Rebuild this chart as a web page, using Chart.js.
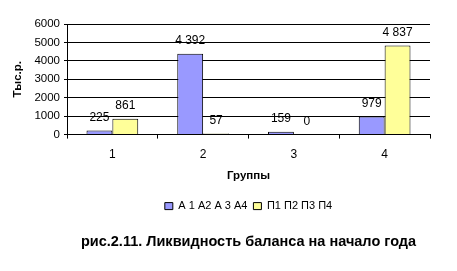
<!DOCTYPE html>
<html>
<head>
<meta charset="utf-8">
<script src="https://cdn.jsdelivr.net/npm/chart.js@4"></script>
<style>
  html, body { margin: 0; padding: 0; background: #fff; }
  #wrap { width: 457px; height: 271px; }
</style>
</head>
<body>
<div id="wrap"><canvas id="liq"></canvas></div>
<script>
var groups = ["1", "2", "3", "4"];
var assets = [225, 4392, 159, 979];
var liabilities = [861, 57, 0, 4837];
var yTicks = [0, 1000, 2000, 3000, 4000, 5000, 6000];

Chart.defaults.font.family = "'Liberation Sans', Arial, sans-serif";
Chart.defaults.font.size = 11;
Chart.defaults.color = '#000';

function fmt(v) {
  return String(v).replace(/\B(?=(\d{3})+(?!\d))/g, ' ');
}

// value labels above bars, like excel
var barLabels = {
  id: 'barLabels',
  afterDatasetsDraw: function(chart) {
    var ctx = chart.ctx;
    ctx.save();
    ctx.font = "12px 'Liberation Sans', Arial, sans-serif";
    ctx.fillStyle = '#000';
    ctx.textAlign = 'center';
    ctx.textBaseline = 'bottom';
    chart.data.datasets.forEach(function(ds, i) {
      var meta = chart.getDatasetMeta(i);
      meta.data.forEach(function(bar, j) {
        ctx.fillText(fmt(ds.data[j]), bar.x, bar.y - 7);
      });
    });
    ctx.restore();
  }
};

new Chart(document.getElementById('liq').getContext('2d'), {
  type: 'bar',
  data: {
    labels: groups,
    datasets: [{
      label: 'А 1 А2 А 3 А4',
      data: assets,
      backgroundColor: '#9999FF',
      borderColor: '#000',
      borderWidth: 1,
      borderSkipped: 'start'
    }, {
      label: 'П1 П2 П3 П4',
      data: liabilities,
      backgroundColor: '#FFFF99',
      borderColor: '#000',
      borderWidth: 1,
      borderSkipped: 'start'
    }]
  },
  options: {
    responsive: true,
    maintainAspectRatio: false,
    animation: false,
    datasets: { bar: { categoryPercentage: 0.57, barPercentage: 1 } },
    layout: { padding: { left: 0, right: 27, top: 24, bottom: 14 } },
    scales: {
      x: {
        grid: { offset: true, drawOnChartArea: false, color: '#000', tickLength: 4 },
        border: { color: '#000' },
        ticks: { padding: 9, font: { size: 12 } },
        title: { display: true, text: 'Группы', font: { weight: 'bold', size: 11.5 }, padding: { top: 4, bottom: 12 } },
        afterFit: function(s) { s.height = 60; }
      },
      y: {
        min: 0,
        max: 6000,
        afterBuildTicks: function(s) { s.ticks = yTicks.map(function(v) { return { value: v }; }); },
        grid: { color: '#000', tickLength: 3 },
        border: { color: '#000' },
        ticks: { padding: 4, autoSkip: false, font: { size: 11.5 }, callback: function(v) { return String(v); } },
        title: { display: true, text: 'Тыс.р.', font: { weight: 'bold', size: 11.5 }, padding: { top: 11, bottom: 4 } },
        afterFit: function(s) { s.width = 67; }
      }
    },
    plugins: {
      legend: {
        position: 'bottom',
        fullSize: false,
        labels: { boxWidth: 8, boxHeight: 7, padding: 6, font: { size: 11 } }
      },
      title: {
        display: true,
        position: 'bottom',
        fullSize: false,
        text: 'рис.2.11. Ликвидность баланса на начало года',
        font: { size: 14.5, weight: 'bold' },
        padding: { top: 12, bottom: 6 }
      },
      tooltip: { enabled: false }
    }
  },
  plugins: [barLabels]
});
</script>
</body>
</html>
